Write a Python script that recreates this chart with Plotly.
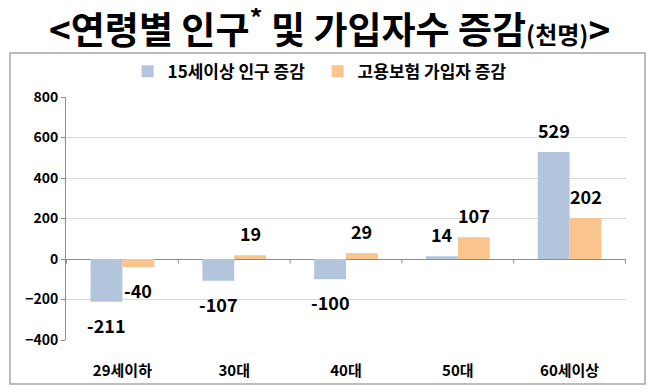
import plotly.graph_objects as go

categories = ["29세이하", "30대", "40대", "50대", "60세이상"]
pop_change = [-211, -107, -100, 14, 529]
ins_change = [-40, 19, 29, 107, 202]
series_names = ["15세이상 인구 증감", "고용보험 가입자 증감"]
y_ticks = [-400, -200, 0, 200, 400, 600, 800]

FONT = "Noto Sans CJK KR"
BLUE = "#B3C5DD"
ORANGE = "#F9C48E"
BARGAP = 0.43

fig = go.Figure()
fig.add_trace(go.Bar(
    x=categories, y=pop_change, name=series_names[0],
    marker=dict(color=BLUE, line=dict(width=0)),
))
fig.add_trace(go.Bar(
    x=categories, y=ins_change, name=series_names[1],
    marker=dict(color=ORANGE, line=dict(width=0)),
))

# data labels (placed with the axis scale, offset to the bar centres)
half = (1 - BARGAP) / 4
for series, off in ((pop_change, -half), (ins_change, half)):
    for i, v in enumerate(series):
        fig.add_annotation(
            x=i + off, y=v, xref="x", yref="y", text=str(v), showarrow=False,
            yanchor="bottom" if v >= 0 else "top", yshift=7 if v >= 0 else -8,
            font=dict(family=FONT, size=18, color="black", weight="bold"),
        )

# tick marks on the zero line at category boundaries
for i in range(len(categories) + 1):
    fig.add_shape(type="line", xref="x", yref="y",
                  x0=i - 0.5, x1=i - 0.5, y0=0, y1=-22,
                  line=dict(color="#8C8C8C", width=1))

# outer frame
fig.add_shape(type="rect", xref="paper", yref="paper",
              x0=-0.1, x1=1.034, y0=-0.181, y1=1.181,
              line=dict(color="#A6A6A6", width=1.5), layer="below")

fig.add_annotation(
    xref="paper", yref="paper", x=0.47, y=1.29, xanchor="center", yanchor="middle",
    text="<b>&lt;연령별 인구<sup>*</sup> 및 가입자수 증감<span style='font-size:24px'>(천명)</span>&gt;</b>",
    showarrow=False, font=dict(family=FONT, size=37, color="black"),
)

fig.update_layout(
    width=650, height=383,
    margin=dict(l=58, r=32, t=89, b=51),
    paper_bgcolor="white", plot_bgcolor="white",
    barmode="group", bargap=BARGAP, bargroupgap=0,
    font=dict(family=FONT, color="black"),
    showlegend=True,
    legend=dict(orientation="h", x=0.11, xanchor="left", y=1.03, yanchor="bottom",
                font=dict(family=FONT, size=17, color="black", weight="bold"),
                itemwidth=30, itemsizing="constant", traceorder="normal",
                entrywidth=145, entrywidthmode="pixels",
                bgcolor="rgba(0,0,0,0)"),
    xaxis=dict(showgrid=False, showline=False, ticks="", zeroline=False,
               tickfont=dict(family=FONT, size=15, color="black", weight="bold"),
               ticklabelstandoff=20),
    yaxis=dict(range=[-400, 800], tickvals=y_ticks, showgrid=True, gridcolor="#D9D9D9",
               gridwidth=1, zeroline=True, zerolinecolor="#8C8C8C", zerolinewidth=1,
               showline=True, linecolor="#8C8C8C", linewidth=1, ticks="outside",
               ticklen=4, tickcolor="#8C8C8C",
               tickfont=dict(family=FONT, size=14, color="black", weight="bold")),
)

fig.write_html("out.html")
